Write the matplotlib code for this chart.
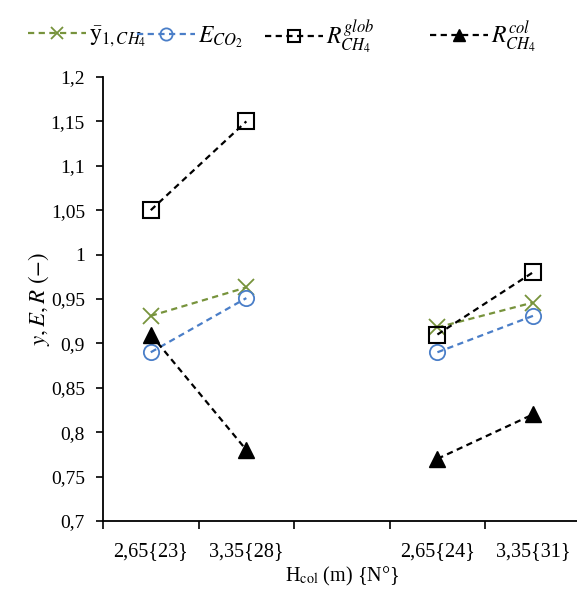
import numpy as np
import matplotlib
matplotlib.use("Agg")
import matplotlib.pyplot as plt
from matplotlib.ticker import FixedLocator, NullFormatter, FixedFormatter

plt.rcParams['font.family'] = ['Liberation Serif', 'DejaVu Serif']
plt.rcParams['mathtext.fontset'] = 'stix'

categories = ['2,65{23}', '3,35{28}', '', '2,65{24}', '3,35{31}']
y1_ch4 = [0.931, 0.963, np.nan, 0.918, 0.946]
e_co2 = [0.89, 0.951, np.nan, 0.89, 0.931]
r_glob = [1.05, 1.15, np.nan, 0.91, 0.98]
r_col = [0.91, 0.78, np.nan, 0.77, 0.82]
yticks = [0.7, 0.75, 0.8, 0.85, 0.9, 0.95, 1.0, 1.05, 1.1, 1.15, 1.2]
ytick_labels = ['0,7', '0,75', '0,8', '0,85', '0,9', '0,95', '1', '1,05', '1,1', '1,15', '1,2']

fig = plt.figure(figsize=(5.77, 5.90), dpi=100)
ax = fig.add_axes([0.1785, 0.117, 0.828, 0.7525])

x = np.arange(len(categories))
dash = (0, (2.8, 2.0))
lw = 1.6
h1, = ax.plot(x, y1_ch4, linestyle=dash, color='#77933C', lw=lw, marker='x', ms=11,
              mew=1.3, label=r'$\mathrm{\bar{y}}_{1,CH_4}$')
h2, = ax.plot(x, e_co2, linestyle=dash, color='#4A7EC8', lw=lw, marker='o', ms=11,
              mfc='none', mew=1.3, label=r'$E_{CO_2}$')
h3, = ax.plot(x, r_glob, linestyle=dash, color='black', lw=lw, marker='s', ms=11,
              mfc='none', mew=1.5, label=r'$R^{glob}_{CH_4}$')
h4, = ax.plot(x, r_col, linestyle=dash, color='black', lw=lw, marker='^', ms=11,
              mfc='black', label=r'$R^{col}_{CH_4}$')

ax.set_xlim(-0.5, len(categories) - 0.5)
ax.set_ylim(0.7, 1.2)
ax.yaxis.set_major_locator(FixedLocator(yticks))
ax.yaxis.set_major_formatter(FixedFormatter(ytick_labels))
ax.xaxis.set_major_locator(FixedLocator(np.arange(len(categories) + 1) - 0.5))
ax.xaxis.set_major_formatter(NullFormatter())
ax.xaxis.set_minor_locator(FixedLocator(x))
ax.xaxis.set_minor_formatter(FixedFormatter(categories))
ax.tick_params(axis='x', which='major', direction='out', length=6, width=1.2)
ax.tick_params(axis='x', which='minor', length=0, pad=15, labelsize=14.5)
ax.tick_params(axis='y', direction='out', length=5, width=1.2, labelsize=14, pad=8)

for s in ['top', 'right']:
    ax.spines[s].set_visible(False)
for s in ['left', 'bottom']:
    ax.spines[s].set_linewidth(1.3)

ax.set_ylabel(r'$y, E, R\ \mathrm{(-)}$', fontsize=16.5, labelpad=-1)
ax.set_xlabel(r'H$_{\mathrm{col}}$ (m) {N°}', fontsize=14.5, labelpad=3)

starts = [28, 137, 265, 430]
for h, sx in zip([h1, h2, h3, h4], starts):
    fig.legend(handles=[h], loc='center left', bbox_to_anchor=(sx / 577, 1 - 37 / 590),
               frameon=False, fontsize=17, handlelength=2.45, handletextpad=0.15,
               borderpad=0, borderaxespad=0, markerscale=0.8)

fig.savefig('out.png', dpi=100)
